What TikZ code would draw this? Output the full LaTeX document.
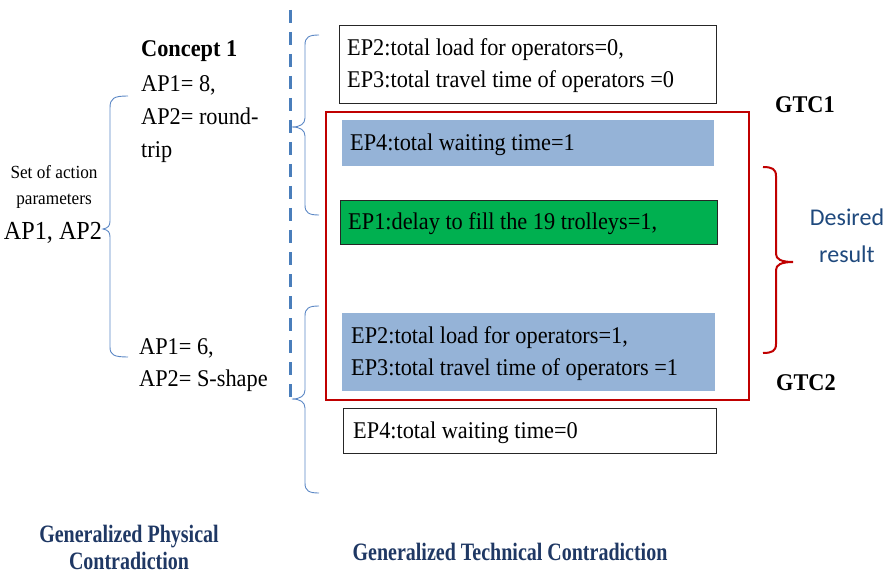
\documentclass[tikz,border=0pt]{standalone}
\usepackage{fontspec}
\setmainfont{Liberation Serif}
\newfontfamily\narrowserif[FakeStretch=0.93]{Liberation Serif}
\newfontfamily\condserif[FakeStretch=0.8]{Liberation Serif}
\newfontfamily\calib{Carlito}
\definecolor{bracecol}{HTML}{5B87C5}
\definecolor{dashcol}{HTML}{4A7EBB}
\definecolor{boxblue}{HTML}{95B3D7}
\definecolor{boxgreen}{HTML}{00B050}
\definecolor{redc}{HTML}{C00000}
\definecolor{navy}{HTML}{1F3864}
\definecolor{desc}{HTML}{1F497D}
\tikzset{
  txt/.style={inner sep=0pt, anchor=west, align=left, font=\narrowserif\fontsize{24}{32}\selectfont},
  bluebr/.style={draw=bracecol, line width=0.9pt},
  bottomlbl/.style={font=\condserif\bfseries\fontsize{25}{27}\selectfont, text=navy, align=center, inner sep=0pt},
  gtclbl/.style={inner sep=0pt, font=\narrowserif\bfseries\fontsize{24}{28}\selectfont},
}
\begin{document}
\begin{tikzpicture}[x=1pt,y=-1pt]
\useasboundingbox (0,0) rectangle (887,575);
% dashed separator
\draw[dashcol, line width=3pt, dash pattern=on 13pt off 9pt] (290,10) -- (290,398);
% left brace
\draw[bluebr] (128,96) .. controls (114,96) and (110,98) .. (110,108) -- (110,221) .. controls (110,226) and (108,228) .. (103,229) .. controls (108,230) and (110,232) .. (110,237) -- (110,347) .. controls (110,355) and (114,357) .. (128,357);
% right braces
\draw[bluebr] (319,35) .. controls (309,35) and (305,37) .. (305,45) -- (305,118) .. controls (305,124) and (300,127) .. (292,127) .. controls (300,127) and (305,130) .. (305,136) -- (305,205) .. controls (305,213) and (309,215) .. (319,215);
\draw[bluebr] (319,306) .. controls (309,306) and (305,308) .. (305,316) -- (305,390) .. controls (305,396) and (300,399) .. (292,399) .. controls (300,399) and (305,402) .. (305,408) -- (305,483) .. controls (305,491) and (309,493) .. (319,493);
% left texts
\node[align=center, inner sep=0pt, font=\narrowserif\fontsize{18.5}{26}\selectfont] (setap) at (54,187) {Set of action\\parameters};
\node[inner sep=0pt, font=\narrowserif\fontsize{26}{30}\selectfont] (apap) at (53,233) {AP1, AP2};
\node[txt] (concept) at (141,51) {\bfseries Concept 1};
\node[txt] (c1) at (141,119) {AP1= 8,\\[1pt]AP2= round-\\[1pt]trip};
\node[txt] (c2) at (139,365) {AP1= 6,\\AP2= S-shape};
% boxes
\draw[redc, line width=2pt] (326,112) rectangle (749,400);
\node[draw=black!85, line width=0.9pt, fill=white, minimum width=377pt, minimum height=78pt, anchor=north west, inner sep=0pt] (b1) at (339,25) {};
\node[txt] (t1) at (347,66) {EP2:total load for operators=0,\\EP3:total travel time of operators =0};
\node[fill=boxblue, minimum width=372pt, minimum height=46pt, anchor=north west, inner sep=0pt] (b2) at (342,120) {};
\node[txt] (t2) at (350,145) {EP4:total waiting time=1};
\node[draw=black!85, line width=0.9pt, fill=boxgreen, minimum width=377pt, minimum height=44pt, anchor=north west, inner sep=0pt] (b3) at (340,200) {};
\node[txt] (t3) at (348,224) {EP1:delay to fill the 19 trolleys=1,};
\node[fill=boxblue, minimum width=373pt, minimum height=78pt, anchor=north west, inner sep=0pt] (b4) at (342,313) {};
\node[txt] (t4) at (351,354) {EP2:total load for operators=1,\\EP3:total travel time of operators =1};
\node[draw=black!85, line width=0.9pt, fill=white, minimum width=373pt, minimum height=45pt, anchor=north west, inner sep=0pt] (b5) at (343,408) {};
\node[txt] (t5) at (353,433) {EP4:total waiting time=0};
% GTC labels
\node[gtclbl] (gtc1) at (805,105) {GTC1};
\node[gtclbl] (gtc2) at (806,383) {GTC2};
% red bracket
\draw[redc, line width=2pt] (763,167) .. controls (772,167) and (776,169) .. (776,176) -- (776,254) .. controls (776,259) and (781,262) .. (793,262) .. controls (781,262) and (776,265) .. (776,270) -- (776,344) .. controls (776,351) and (772,353) .. (763,353);
\node[align=center, inner sep=0pt, text=desc, font=\calib\fontsize{24}{37}\selectfont] (des) at (847,236) {Desired\\result};
% bottom labels
\node[bottomlbl] (gpc) at (129,547) {Generalized Physical\\Contradiction};
\node[bottomlbl] (gtc) at (510,552) {Generalized Technical Contradiction};
\end{tikzpicture}
\end{document}
